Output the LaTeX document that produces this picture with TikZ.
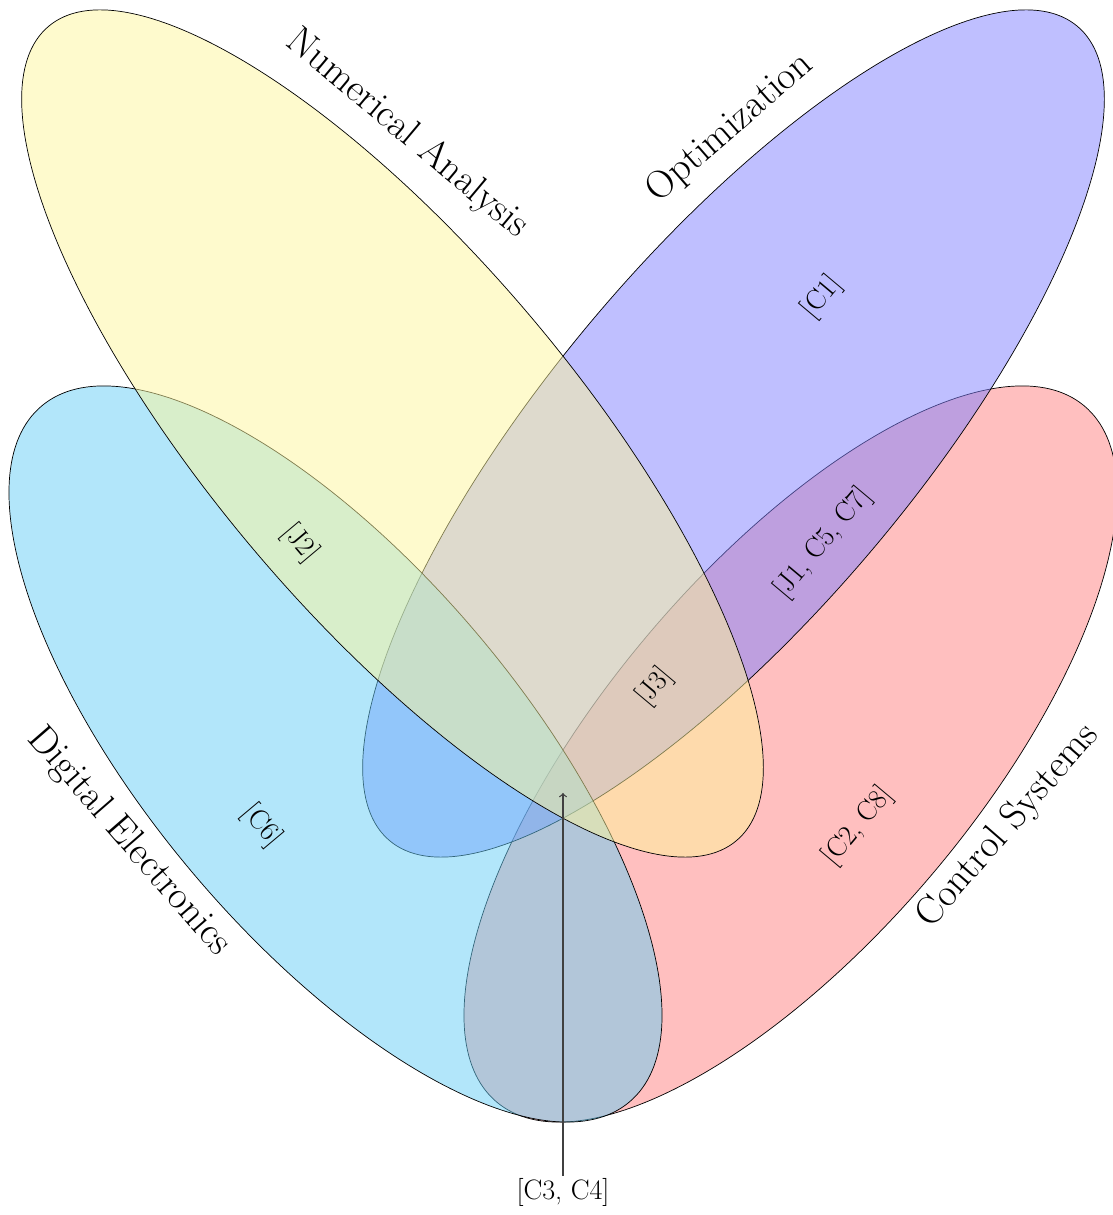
\documentclass[tikz,border=0pt]{standalone}
\usepackage{tikz}
\usetikzlibrary{arrows}

\definecolor{setred}{RGB}{255,127,127}
\definecolor{setblue}{RGB}{127,127,255}
\definecolor{setcyan}{RGB}{102,205,245}
\definecolor{setyellow}{RGB}{254,246,155}

\begin{document}
\begin{tikzpicture}[
  x=0.2mm,
  y=0.2mm
]

  \tikzstyle{setfill}=[draw=black,fill opacity=0.5]
  \tikzstyle{setname}=[font=\fontsize{22.2}{26}\selectfont,inner sep=0pt]
  \tikzstyle{regionlab}=[font=\fontsize{16}{19}\selectfont,inner sep=1pt]
  \tikzstyle{pointer}=[draw=black!75,line width=0.7pt,->]

  \useasboundingbox (0,0) rectangle (1113,1215);

  % sets
  \draw[setfill,fill=setred,shift={(790.5,461)},rotate=49.8] (0,0) ellipse (455.5 and 185.8);
  \draw[setfill,fill=setblue,shift={(733.5,781.5)},rotate=49.8] (0,0) ellipse (533 and 181);
  \draw[setfill,fill=setcyan,shift={(335.5,461)},rotate=-49.8] (0,0) ellipse (455.5 and 185.8);
  \draw[setfill,fill=setyellow,shift={(392.5,781.5)},rotate=-49.8] (0,0) ellipse (533 and 181);

  % nodes
  \node[setname,rotate=-40] (numana) at (407,1081) {Numerical Analysis};
  \node[setname,rotate=41] (optim) at (730,1087) {Optimization};
  \node[setname,rotate=-49] (digel) at (129,373) {Digital Electronics};
  \node[setname,rotate=49] (ctrlsys) at (1008,389) {Control Systems};

  \node[regionlab,rotate=50] (c1) at (822,918) {[C1]};
  \node[regionlab,rotate=-50] (j2) at (300,672) {[J2]};
  \node[regionlab,rotate=50] (j157) at (823,672) {[J1, C5, C7]};
  \node[regionlab,rotate=50] (j3) at (655,528) {[J3]};
  \node[regionlab,rotate=-50] (c6) at (262,389) {[C6]};
  \node[regionlab,rotate=50] (c28) at (858,389) {[C2, C8]};
  \node[regionlab] (c34) at (563,23) {[C3, C4]};
  \coordinate (core) at (563,422);

  % pointers
  \draw[pointer] (c34) -- (core);

\end{tikzpicture}
\end{document}
